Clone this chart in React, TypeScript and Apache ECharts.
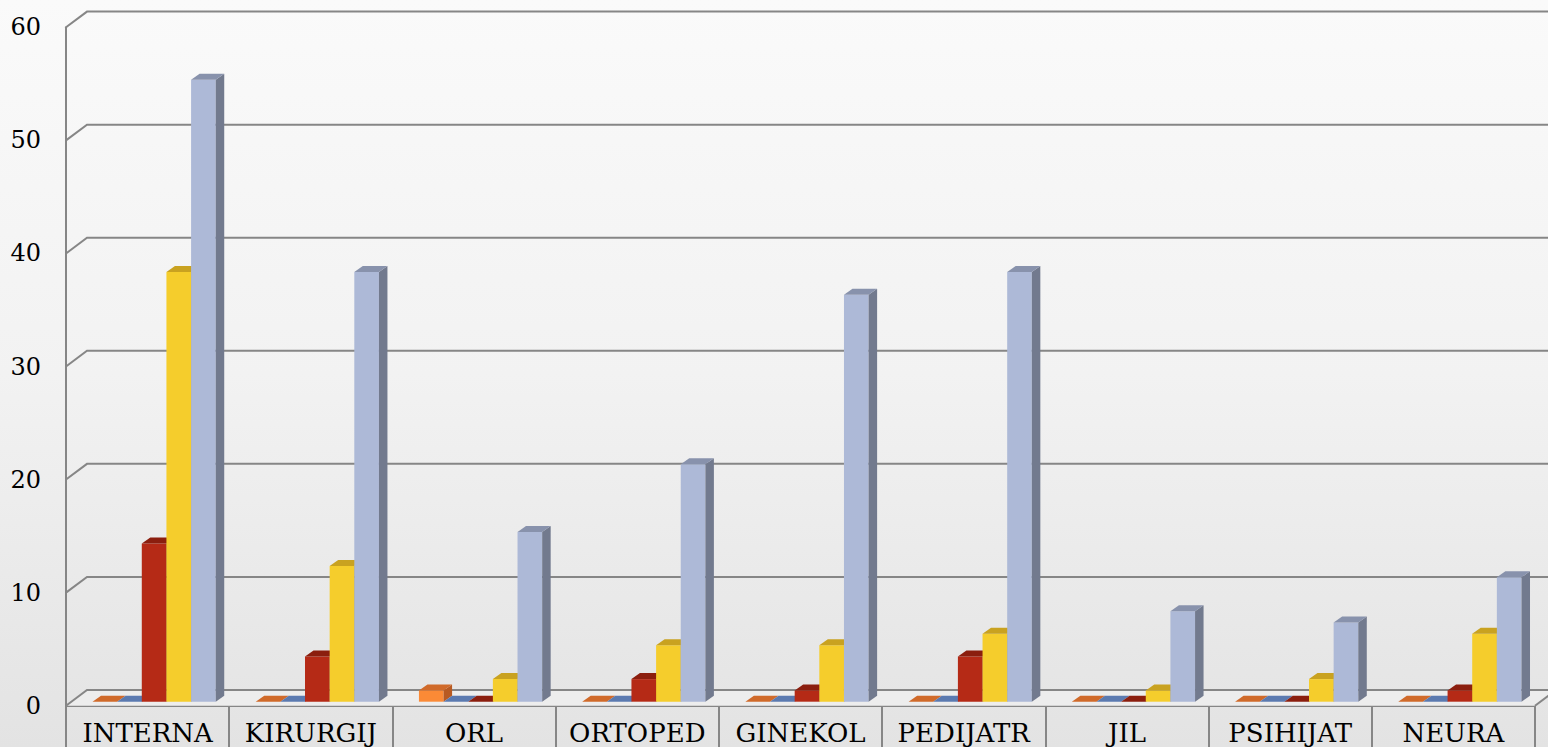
import React, { useEffect, useRef } from "react";
import * as echarts from "echarts";

const categories = ["INTERNA", "KIRURGIJ", "ORL", "ORTOPED", "GINEKOL", "PEDIJATR", "JIL", "PSIHIJAT", "NEURA"];
const seriesOrange = [0, 0, 1, 0, 0, 0, 0, 0, 0];
const seriesBlue = [0, 0, 0, 0, 0, 0, 0, 0, 0];
const seriesRed = [14, 4, 0, 2, 1, 4, 0, 0, 1];
const seriesYellow = [38, 12, 2, 5, 5, 6, 1, 2, 6];
const seriesGray = [55, 38, 15, 21, 36, 38, 8, 7, 11];
const yTicks = [0, 10, 20, 30, 40, 50, 60];

const seriesDefs = [
  { name: "Serija 1", values: seriesOrange, front: "#FB8A36", top: "#D06A2A", side: "#B85A22" },
  { name: "Serija 2", values: seriesBlue, front: "#5E80B8", top: "#5B7AB0", side: "#4A6594" },
  { name: "Serija 3", values: seriesRed, front: "#B52A16", top: "#8B1E0E", side: "#7E1A0C" },
  { name: "Serija 4", values: seriesYellow, front: "#F5CD2C", top: "#C9A220", side: "#B8941C" },
  { name: "Serija 5", values: seriesGray, front: "#ADB9D7", top: "#8892AC", side: "#727A8E" },
];

// 3D geometry (styling)
const WALL_DX = 21;
const WALL_DY = -15.7;
const BAR_OX = 6.5;
const BAR_OY = -4;
const BAR_DX = 8.5;
const BAR_DY = -6;
const BAR_FRAC = 0.151;
const LINE_COLOR = "#868686";
const FONT = "DejaVu Serif";

export default function App() {
  const ref = useRef<HTMLDivElement>(null);
  useEffect(() => {
    if (!ref.current) return;
    const chart = echarts.init(ref.current, undefined, { renderer: "svg" });

    const wallSeries: any = {
      type: "custom",
      name: "walls",
      silent: true,
      data: yTicks.map((v) => [0, v]),
      encode: { x: 0, y: 1 },
      z: 1,
      renderItem: (params: any, api: any) => {
        const cs = params.coordSys;
        const v = api.value(1);
        const y = api.coord([0, v])[1];
        const x0 = cs.x;
        const x1 = cs.x + cs.width;
        const children: any[] = [];
        if (v === 0) {
          children.push({
            type: "polygon",
            shape: { points: [[x0, y], [x0 + WALL_DX, y + WALL_DY], [x1 + WALL_DX, y + WALL_DY], [x1, y]] },
            style: { fill: "#EDEDED" },
          });
          children.push({
            type: "line",
            shape: { x1: x1, y1: y, x2: x1 + WALL_DX, y2: y + WALL_DY },
            style: { stroke: LINE_COLOR, lineWidth: 2 },
          });
        }
        children.push({
          type: "polyline",
          shape: { points: [[x0, y], [x0 + WALL_DX, y + WALL_DY], [x1 + WALL_DX + 30, y + WALL_DY]] },
          style: { stroke: LINE_COLOR, lineWidth: 2, fill: null },
        });
        return { type: "group", children };
      },
    };

    const barSeries = seriesDefs.map((def, s) => ({
      type: "custom",
      name: def.name,
      z: 2,
      data: def.values.map((v, i) => [i, v]),
      encode: { x: 0, y: 1 },
      renderItem: (params: any, api: any) => {
        const cat = api.value(0);
        const val = api.value(1);
        const c = api.coord([cat, val]);
        const b = api.coord([cat, 0]);
        const band = api.size([1, 0])[0];
        const w = band * BAR_FRAC;
        const left = c[0] - 2.5 * w + s * w + BAR_OX;
        const top = c[1] + BAR_OY;
        const bottom = b[1] + BAR_OY;
        const children: any[] = [];
        if (bottom - top > 0.5) {
          children.push({
            type: "rect",
            shape: { x: left, y: top, width: w, height: bottom - top },
            style: { fill: def.front },
          });
          children.push({
            type: "polygon",
            shape: { points: [[left + w, top], [left + w + BAR_DX, top + BAR_DY], [left + w + BAR_DX, bottom + BAR_DY], [left + w, bottom]] },
            style: { fill: def.side },
          });
        }
        children.push({
          type: "polygon",
          shape: { points: [[left, top], [left + BAR_DX, top + BAR_DY], [left + w + BAR_DX, top + BAR_DY], [left + w, top]] },
          style: { fill: def.top },
        });
        return { type: "group", children };
      },
    }));

    chart.setOption({
      animation: false,
      backgroundColor: new echarts.graphic.LinearGradient(0, 0, 0, 1, [
        { offset: 0, color: "#FAFAFA" },
        { offset: 0.5, color: "#F2F2F2" },
        { offset: 1, color: "#E3E3E3" },
      ]),
      grid: { left: 66, right: 13, top: 27.3, bottom: 41.3, containLabel: false },
      xAxis: {
        type: "category",
        data: categories,
        boundaryGap: true,
        axisLine: { show: true, lineStyle: { color: LINE_COLOR, width: 2 } },
        axisTick: { show: true, interval: 0, length: 50, lineStyle: { color: LINE_COLOR, width: 2 } },
        axisLabel: { interval: 0, margin: 14, fontSize: 26, fontFamily: FONT, color: "#000" },
        splitLine: { show: false },
      },
      yAxis: {
        type: "value",
        min: 0,
        max: 60,
        interval: 10,
        axisLine: { show: true, lineStyle: { color: LINE_COLOR, width: 2 } },
        axisTick: { show: false },
        splitLine: { show: false },
        axisLabel: { margin: 25, fontSize: 24, fontFamily: FONT, color: "#000", padding: [5, 0, 0, 0] },
      },
      series: [wallSeries, ...barSeries],
    });
    return () => chart.dispose();
  }, []);
  return <div ref={ref} style={{ position: "absolute", left: 0, top: 0, width: 1548, height: 747 }} />;
}
